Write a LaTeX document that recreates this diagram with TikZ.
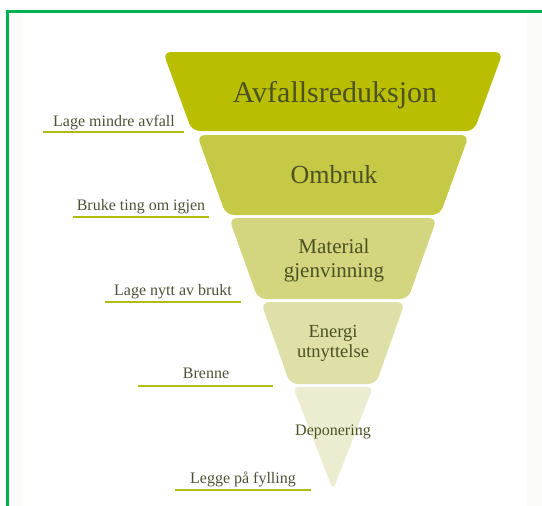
\documentclass[tikz,border=0pt]{standalone}
\usepackage{fontspec}
\setmainfont{Liberation Serif}
\definecolor{greenframe}{RGB}{0,176,80}
\definecolor{cA}{HTML}{BABE00}
\definecolor{cB}{HTML}{C6C946}
\definecolor{cC}{HTML}{D3D57F}
\definecolor{cD}{HTML}{DFE0A8}
\definecolor{cE}{HTML}{ECEDD0}
\definecolor{txt}{HTML}{4C5120}
\definecolor{lbl}{HTML}{4E5238}
\definecolor{ulinecol}{HTML}{B4BA12}
\definecolor{band}{HTML}{FBFBFA}
\tikzset{
  layer/.style={rounded corners=8pt},
  ltext/.style={text=txt, align=center, inner sep=0pt, anchor=base},
  side/.style={text=lbl, inner sep=0pt, anchor=base, font=\fontsize{16}{18}\selectfont},
  uline/.style={draw=ulinecol, line width=2pt},
}
\begin{document}
\begin{tikzpicture}[x=1pt,y=-1pt]
\useasboundingbox (0,0) rectangle (542,506);
\fill[white] (0,0) rectangle (542,506);
\fill[band] (527,13) rectangle (542,506);
\fill[band] (10,13) rectangle (22,506);
\fill[greenframe] (6.4,10.4) rectangle (8.6,506);
\fill[greenframe] (6.4,10.4) rectangle (542,12.6);
% layers
\def\cx{333}
\fill[cA, layer] (\cx-170,52) -- (\cx+170,52) -- (\cx+141,131) -- (\cx-141,131) -- cycle;
\fill[cB, layer] (\cx-136,135) -- (\cx+136,135) -- (\cx+107,215) -- (\cx-107,215) -- cycle;
\fill[cC, layer] (\cx-104,218) -- (\cx+104,218) -- (\cx+75,299) -- (\cx-75,299) -- cycle;
\fill[cD, layer] (\cx-72,302) -- (\cx+72,302) -- (\cx+43,384) -- (\cx-43,384) -- cycle;
\fill[cE, rounded corners=6pt] (\cx-40,387) -- (\cx+40,387) -- (\cx,490) -- cycle;
% layer texts
\node[ltext, font=\fontsize{30}{32}\selectfont] (t1) at (335,102) {Avfallsreduksjon};
\node[ltext, font=\fontsize{26}{28}\selectfont] (t2) at (334,183) {Ombruk};
\node[ltext, font=\fontsize{21}{23}\selectfont] (t3a) at (334,253) {Material};
\node[ltext, font=\fontsize{21}{23}\selectfont] (t3b) at (334,277) {gjenvinning};
\node[ltext, font=\fontsize{18.5}{20}\selectfont] (t4a) at (333,337) {Energi};
\node[ltext, font=\fontsize{18.5}{20}\selectfont] (t4b) at (333,357) {utnyttelse};
\node[ltext, font=\fontsize{16}{18}\selectfont] (t5) at (333,435) {Deponering};
% side labels
\node[side] (s1) at (114,126) {Lage mindre avfall};
\node[side] (s2) at (141,210) {Bruke ting om igjen};
\node[side] (s3) at (173,295) {Lage nytt av brukt};
\node[side] (s4) at (206,378) {Brenne};
\node[side] (s5) at (243,483) {Legge på fylling};
\coordinate (u1a) at (43,132); \coordinate (u1b) at (184,132);
\coordinate (u2a) at (73,217); \coordinate (u2b) at (209,217);
\coordinate (u3a) at (105,302); \coordinate (u3b) at (241,302);
\coordinate (u4a) at (138,386); \coordinate (u4b) at (273,386);
\coordinate (u5a) at (175,490); \coordinate (u5b) at (311,490);
\draw[uline] (u1a) -- (u1b);
\draw[uline] (u2a) -- (u2b);
\draw[uline] (u3a) -- (u3b);
\draw[uline] (u4a) -- (u4b);
\draw[uline] (u5a) -- (u5b);
\end{tikzpicture}
\end{document}
